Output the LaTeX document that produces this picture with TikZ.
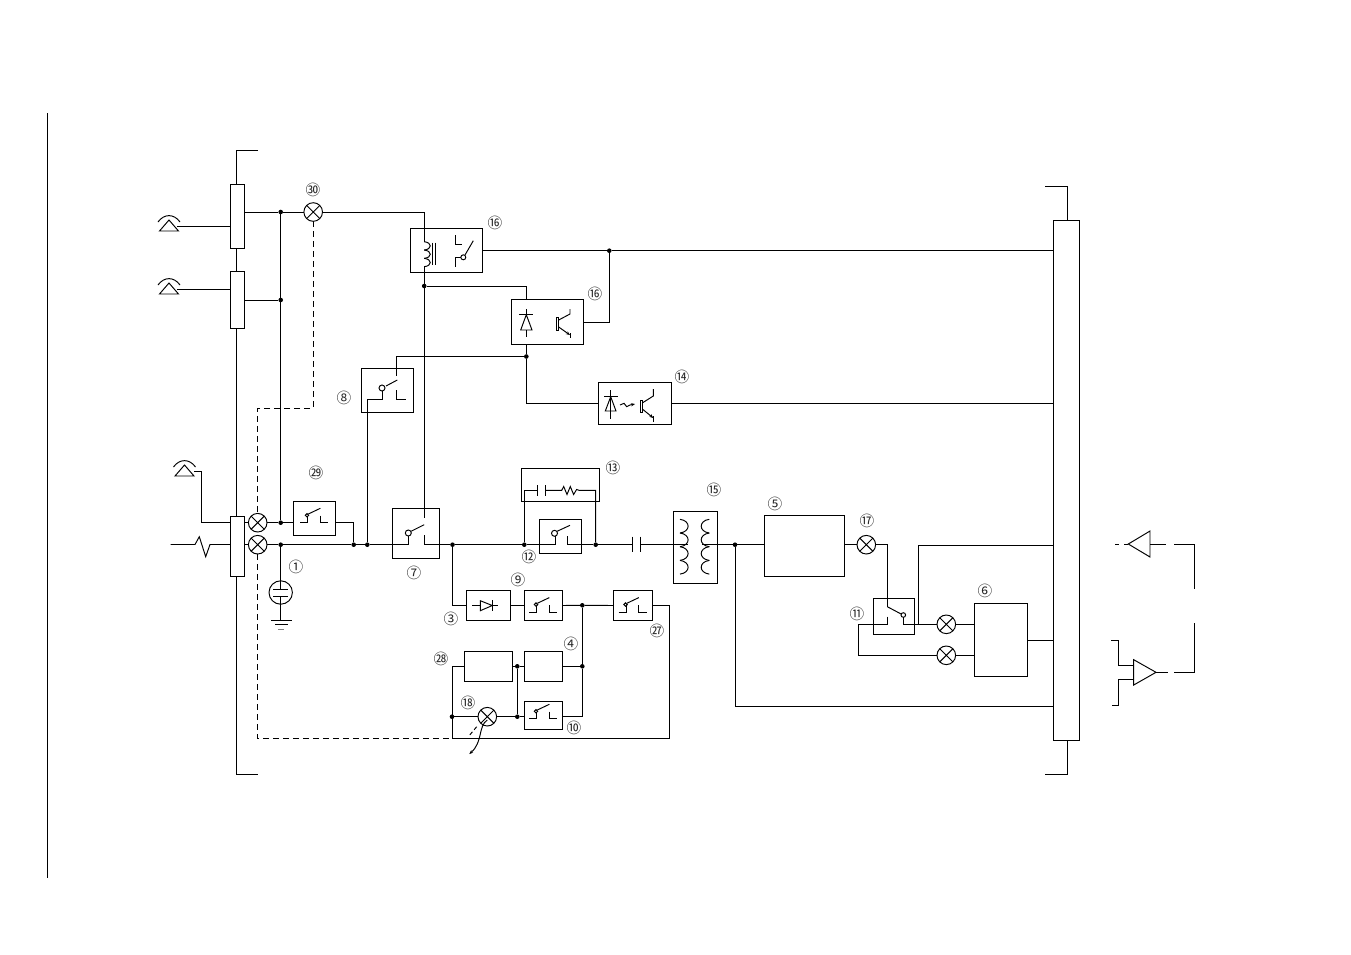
\documentclass[tikz,border=0pt]{standalone}
\usepackage{fontspec}
\usetikzlibrary{arrows.meta,calc}
\newfontfamily\cjk{Noto Sans CJK KR}
\tikzset{
  bx/.style 2 args={draw,fill=white,minimum width=#1*0.75pt,minimum height=#2*0.75pt,inner sep=0pt,outer sep=0pt},
  ob/.style 2 args={draw,minimum width=#1*0.75pt,minimum height=#2*0.75pt,inner sep=0pt,outer sep=0pt},
  lampn/.style={draw,circle,fill=white,minimum size=18.6*0.75pt,inner sep=0pt,outer sep=0pt},
  jdot/.style={fill,circle,minimum size=4.6*0.75pt,inner sep=0pt,outer sep=0pt},
  lbl/.style={inner sep=0pt,font=\cjk\fontsize{11}{11}\selectfont,text=black!85},
  dsh/.style={dash pattern=on 4.5pt off 3pt},
  tip/.style={-{Stealth[length=3pt,width=2.4pt]}}
}
\newcommand\lampat[3]{\node[lampn] (#1) at (#2,#3) {};\draw (#1.45)--(#1.225) (#1.135)--(#1.315);}
\newcommand\swsmall[2]{\begin{scope}[shift={(#1,#2)}]
  \draw (-14.3,6.7)--(-6.7,6.7)--(-6.7,.7);
  \draw (-7.3,-.7) circle (1.7);
  \draw (-6,-2)--(6,-7.7);
  \draw (6,-.3)--(6,6.7)--(14,6.7);
\end{scope}}
\newcommand\antenna[3]{%
  \node[inner sep=0pt,outer sep=0pt] (#3) at (#1,#2-4) {};
  \draw (#1-9.5,#2)--(#1,#2-11)--(#1+9.5,#2)--cycle;
  \draw (#1-11,#2-9) .. controls (#1-5,#2-17.5) and (#1+5,#2-17.5) .. (#1+11,#2-9);}
\newcommand\coilR[4]{%
  \foreach \i in {1,...,\coiln}{
    \draw (#1,#2+\i*#4-#4) .. controls (#1+#3*1.35,#2+\i*#4-#4+.1*#4) and (#1+#3*1.35,#2+\i*#4-.1*#4) .. (#1,#2+\i*#4);}}
\begin{document}
\begin{tikzpicture}[x=0.75pt,y=-0.75pt,line width=0.72pt,line join=miter]
\useasboundingbox (0,0) rectangle (1351,954);
\coordinate (ea) at (47,113); \coordinate (eb) at (47,878);
\draw (ea)--(eb);
\coordinate (bl1) at (258,150); \coordinate (bl2) at (258,774);
\draw (bl1)-|(236.7,774)--(bl2);
\coordinate (br1) at (1045,186); \coordinate (br2) at (1045,774.5);
\draw (br1)-|(1067.7,774.5)--(br2);
\node[bx={14}{64}] (t1) at (237.3,216) {};
\node[bx={14}{57}] (t2) at (237.3,299.5) {};
\node[bx={14}{60}] (t3) at (237.3,546) {};
\node[bx={26.4}{520}] (rb) at (1066.5,480.5) {};
\antenna{169}{231}{a1}
\antenna{169}{294}{a2}
\antenna{184.5}{476}{a3}
\coordinate (a1e) at (177,226.7); \coordinate (a2e) at (177,289); \coordinate (a3e) at (194,471);
\draw (a1e)--(t1.west|-a1e);
\draw (a2e)--(t2.west|-a2e);
\node[jdot] (j1) at (280.7,212) {};
\node[jdot] (j2) at (280.7,300) {};
\node[jdot] (j3) at (280.7,522.7) {};
\node[jdot] (j4) at (280.7,544.7) {};
\node[jdot] (j5) at (353.7,544.7) {};
\node[jdot] (j6) at (367.3,544.7) {};
\node[jdot] (j7) at (452.5,544.7) {};
\node[jdot] (j8) at (524.3,544.7) {};
\node[jdot] (j9) at (595.7,544.7) {};
\node[jdot] (j10) at (735,544.7) {};
\node[jdot] (j11) at (424.2,286) {};
\node[jdot] (j12) at (526.3,356.5) {};
\node[jdot] (j13) at (609.3,250.7) {};
\node[jdot] (j14) at (582.3,605.3) {};
\node[jdot] (j15) at (582.3,666.3) {};
\node[jdot] (j16) at (517.3,666.3) {};
\node[jdot] (j17) at (517.3,716.7) {};
\node[jdot] (j18) at (452,716.7) {};
\lampat{l30}{313.2}{212}
\lampat{l1}{257.7}{522.7}
\lampat{l2}{257.7}{544.7}
\lampat{l18}{487.3}{716.7}
\lampat{l17}{866.3}{544.7}
\lampat{l6a}{946.3}{624.3}
\lampat{l6b}{946.3}{655.3}
\node[ob={71.6}{44}] (r16) at (446.5,250) {};
\node[ob={72}{44.7}] (o16) at (547.3,321.7) {};
\node[ob={73.4}{42}] (o14) at (635,403.3) {};
\node[ob={52.3}{44.4}] (b8) at (387.2,390.5) {};
\node[ob={42}{34}] (b29) at (314,518) {};
\node[ob={47}{50}] (b7) at (415.5,533) {};
\node[ob={78}{33}] (b13) at (560.3,484.8) {};
\node[ob={42.4}{34}] (b12) at (560.5,536.3) {};
\node[ob={44}{72}] (b15) at (695.3,547.3) {};
\node[ob={80}{61}] (b5) at (804.3,545.8) {};
\node[ob={41}{36}] (b11) at (893.8,616.3) {};
\node[ob={53.4}{73}] (b6) at (1001,639.8) {};
\node[ob={44.4}{29.6}] (b3) at (488.5,605.5) {};
\node[ob={38}{29.6}] (b9) at (543.3,605.5) {};
\node[ob={39}{29.6}] (b27) at (632.8,605.5) {};
\node[ob={48.4}{30}] (b28) at (488.5,666.3) {};
\node[ob={38}{30}] (b4) at (543.3,666.3) {};
\node[ob={38}{28}] (b10) at (543.3,715.3) {};
\draw (t1.east|-j1)--(j1)--(l30);
\draw (l30)-|(r16.north-|j11);
\draw (t2.east|-j2)--(j2);
\draw (j1)--(j3);
\draw (a3e)-|(201,522.7)--(t3.west|-j3);
\draw (t3.east|-l1)--(l1) (l1)--(j3)--(b29.west|-j3);
\draw (b29.east|-j3)-|(j5);
\coordinate (dc1) at (313.2,408.3); \coordinate (dc2) at (257.7,408.3); \coordinate (dc3) at (257.7,738.3); \coordinate (dc4) at (452,738.3);
\draw[dsh] (l30)--(dc1)--(dc2)--(l1);
\draw[dsh] (l2)--(dc3)--(dc4);
\coordinate (zz0) at (170.7,544.5);
\draw (zz0)--(195,544.5)--(199.3,536.7)--(205.7,556.7)--(210,544.5)--(t3.west|-zz0);
\draw (t3.east|-l2)--(l2) (l2)--(j4)--(j5)--(j6)--(408.3,544.7)--(408.3,536);
\draw (424.2,535)--(424.2,544.7)--(j7)--(j8)--(555,544.7)--(555,536);
\draw (408.3,533) circle (3);
\draw (411,531.3)--(424.2,524.7);
\coordinate (vt) at (424.2,212);
\draw (vt)--(424.2,241.7);
\draw (424.2,266.7)--(j11)--(424.2,518);
\def\coiln{3}\coilR{424.2}{241.7}{6}{8.33}
\draw (432.7,242.7)--(432.7,265) (435.7,242.7)--(435.7,265);
\draw (455,235)--(455,244.3)--(461.7,244.3);
\draw (455,266.7)--(455,257.3)--(460.8,257.3);
\draw (463.3,257.3) circle (2.5);
\draw (465,255)--(473.3,240.7);
\draw (r16.east|-j13)--(j13)--(rb.west|-j13);
\draw (j11)-|(o16.north-|j12);
\draw (o16.east|-0,322.7)-|(j13);
\draw (o16.south-|j12)--(j12);
\draw (526.3,309)--(526.3,314.7);
\draw (519.3,314.7)--(533.3,314.7);
\draw (526.3,314.7)--(520.7,330)--(532,330)--cycle;
\draw (526.3,330)--(526.3,337.3);
\draw (556,317.3) rectangle (558.7,330);
\draw (558.7,320)--(570,314)--(570,309);
\draw[tip] (558.7,327)--(570,335);
\draw (570,333)--(570,338);
\draw (j12)|-(o14.west);
\draw (o14.east)--(rb.west|-o14.east);
\draw (610.7,390)--(610.7,419);
\draw (604,396.7)--(618.3,396.7);
\draw (610.7,396.7)--(605.3,411)--(616,411)--cycle;
\draw (640,400) rectangle (642.7,412.7);
\draw (642.7,402.7)--(653.3,396)--(653.3,389);
\draw[tip] (642.7,409.3)--(653.3,418);
\draw (653.3,416)--(653.3,422.3);
\draw[tip] (620,405) -- (624,403.3) -- (626.7,406.7) -- (630,405) -- (635,404);
\draw (j12)-|(396.3,376);
\draw (386,386)--(397.3,380);
\draw (382,388) circle (3);
\draw (j6)|-(382,399.7)--(382,391);
\draw (396.3,390)--(396.3,399.7)--(406,399.7);
\swsmall{314.3}{516}
\swsmall{543.3}{605.3}
\swsmall{632.8}{605.3}
\swsmall{543.3}{712}
\draw (j4)--(280.7,589.3);
\draw (273.3,589.3)--(287.7,589.3) (273.3,596)--(287.7,596);
\draw (280.7,592.5) circle (11.7);
\draw (280.7,596)--(280.7,620.7);
\draw (271,620.7)--(291.7,620.7) (275,624.5)--(287.7,624.5);
\draw[black!50] (278,629)--(284,629);
\draw (j7)|-(b3.west|-b3);
\draw (472.3,605.5)--(480.3,605.5);
\draw (480.3,600.7)--(492.3,605.5)--(480.3,610.7)--cycle;
\draw (492.3,600)--(492.3,611);
\draw (492.3,605.5)--(497.7,605.5);
\draw (b3.east)--(b9.west);
\draw (b9.east)--(j14)--(b27.west);
\draw (j14)--(j15)--(582.3,716.7)--(b10.east|-j17);
\draw (b4.east)--(j15);
\draw (b28.east)--(j16)--(b4.west);
\draw (j16)--(j17);
\draw (l18)--(j17)--(b10.west|-j17);
\draw (j18)--(l18);
\coordinate (bb) at (452,738.3);
\draw (b28.west)-|(bb);
\draw (b27.east)-|(669.3,738.3)--(bb);
\draw[tip] (487.3,720) .. controls (478,726) and (483,742) .. (469.3,754);
\draw[dash pattern=on 3pt off 2pt] (476.7,726.7)--(468.3,736.7);
\draw (554.5,533.3) circle (3);
\draw (557,531.3)--(570,525.3);
\draw (567.7,536)--(567.7,544.7)--(j9);
\draw (j8)--(524.3,490.3)--(537.3,490.3);
\draw (537.3,485)--(537.3,495.7) (545,485)--(545,495.7);
\draw (545,490.3)--(561.7,490.3)--(563.7,486.5)--(567,494.5)--(570.3,486.5)--(573.6,494.5)--(576.6,489.5)--(579,490.3)--(595.7,490.3)--(j9);
\draw (j9)--(632.3,544.7) (640,544.7)--(688,544.7);
\draw (632.3,536.7)--(632.3,551.7) (640,536.7)--(640,551.7);
\def\coiln{4}\coilR{680}{519.3}{8}{13.7}
\coilR{709.3}{519.3}{-8}{13.7}
\draw (702,544.7)--(j10)--(b5.west|-j10);
\draw (b5.east|-j10)--(l17);
\draw (l17)-|(887.3,606.7);
\draw (887.3,606.7)--(901.7,614.3);
\draw (903.3,615) circle (2.3);
\coordinate (j19) at (918.3,624.3);
\draw (903.3,617.3)--(903.3,624.3)--(j19)--(l6a);
\draw (l6a)--(b6.west|-l6a);
\draw (j19)|-(rb.west|-0,545.3);
\draw (887.3,616.7)--(887.3,624.3)--(858.3,624.3)|-(l6b);
\draw (l6b)--(b6.west|-l6b);
\draw (b6.east|-0,640.3)--(rb.west|-0,640.3);
\draw (j10)|-(rb.west|-0,706);
\coordinate (ta) at (1128.3,544);
\draw (ta)--(1150,531)--(1150,557)--cycle;
\draw (1150,544)--(1166,544);
\draw (1174,544)-|(1194.3,589.3);
\draw (1115,544)--(1119,544) (1124.3,544)--(ta);
\coordinate (tb) at (1156,672.3);
\draw (tb)--(1133.7,659.7)--(1133.7,685)--cycle;
\draw (tb)--(1167.7,672.3);
\draw (1174,672.3)-|(1194.3,623.3);
\draw (1133.7,665.3)-|(1118.7,640.3)--(1111,640.3);
\draw (1133.7,679.3)-|(1118.7,705)--(1111.7,705);
\node[lbl] (n30) at (313,190) {㉚};
\node[lbl] (n16a) at (495,223) {⑯};
\node[lbl] (n16b) at (595,294) {⑯};
\node[lbl] (n14) at (682,377) {⑭};
\node[lbl] (n8) at (344,398) {⑧};
\node[lbl] (n29) at (316,473) {㉙};
\node[lbl] (n1) at (296,567) {①};
\node[lbl] (n7) at (414,573) {⑦};
\node[lbl] (n13) at (613,468) {⑬};
\node[lbl] (n15) at (714,490) {⑮};
\node[lbl] (n5) at (775,504) {⑤};
\node[lbl] (n17) at (867,521) {⑰};
\node[lbl] (n12) at (529,557) {⑫};
\node[lbl] (n9) at (518,580) {⑨};
\node[lbl] (n3) at (451,619) {③};
\node[lbl] (n4) at (571,644) {④};
\node[lbl] (n28) at (441,659) {㉘};
\node[lbl] (n18) at (468,703) {⑱};
\node[lbl] (n10) at (574,728) {⑩};
\node[lbl] (n27) at (657,631) {㉗};
\node[lbl] (n11) at (857,614) {⑪};
\node[lbl] (n6) at (985,591) {⑥};
\end{tikzpicture}
\end{document}
